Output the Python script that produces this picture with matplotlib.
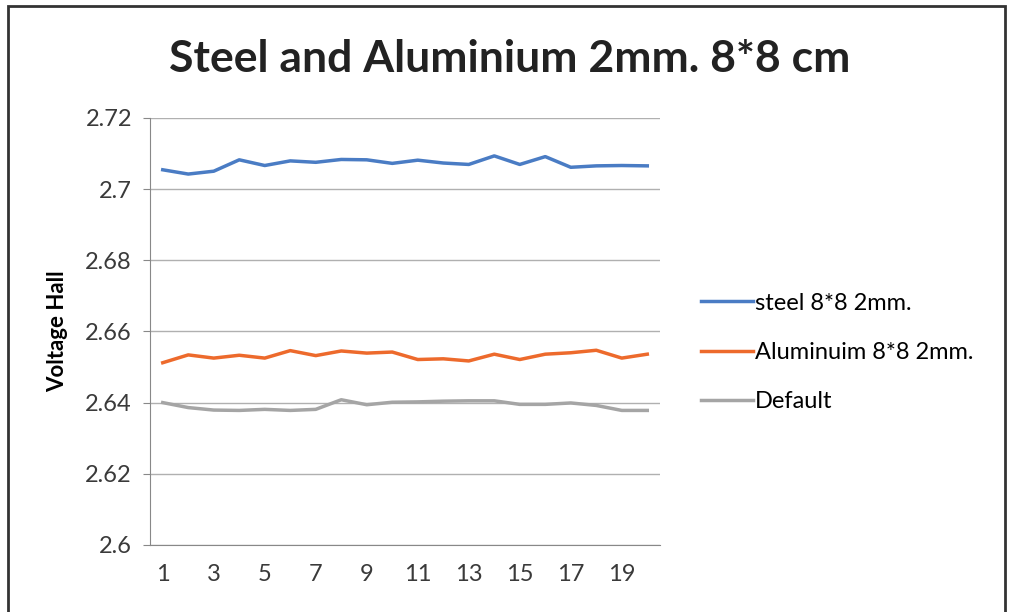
import numpy as np
import matplotlib.pyplot as plt
from matplotlib.patches import Rectangle

plt.rcParams['font.family'] = ['Lato', 'DejaVu Sans']

x = np.arange(1, 21)
steel = [2.7054, 2.7042, 2.7050, 2.7082, 2.7066, 2.7079, 2.7075, 2.7083, 2.7082, 2.7072,
         2.7081, 2.7073, 2.7069, 2.7093, 2.7069, 2.7091, 2.7061, 2.7065, 2.7066, 2.7065]
alu = [2.6512, 2.6534, 2.6525, 2.6533, 2.6525, 2.6546, 2.6532, 2.6545, 2.6539, 2.6542,
       2.6521, 2.6523, 2.6517, 2.6536, 2.6521, 2.6536, 2.6540, 2.6547, 2.6525, 2.6536]
default = [2.6400, 2.6386, 2.6379, 2.6378, 2.6381, 2.6378, 2.6381, 2.6408, 2.6394, 2.6401,
           2.6402, 2.6404, 2.6405, 2.6405, 2.6395, 2.6395, 2.6399, 2.6392, 2.6378, 2.6378]
labels = ["steel 8*8 2mm.", "Aluminuim 8*8 2mm.", "Default"]
colors = ["#4a7cc4", "#ed6a2c", "#a5a5a5"]
yticks = [2.6, 2.62, 2.64, 2.66, 2.68, 2.7, 2.72]
yticklabels = ["2.6", "2.62", "2.64", "2.66", "2.68", "2.7", "2.72"]

fig = plt.figure(figsize=(10.1, 6.12), dpi=100)
ax = fig.add_axes([0.1485, 0.1095, 0.505, 0.698])

for s, lab, c in zip([steel, alu, default], labels, colors):
    ax.plot(x, s, color=c, lw=2.5, label=lab)

ax.set_xlim(0.5, 20.5)
ax.set_ylim(2.6, 2.72)
ax.set_yticks(yticks)
ax.set_yticklabels(yticklabels)
ax.set_xticks(x[::2])
ax.tick_params(axis='both', labelsize=17, colors='#888888', length=5, labelcolor='#3a3a3a')
ax.tick_params(axis='y', pad=8)
ax.tick_params(axis='x', length=0, pad=14)
ax.grid(axis='y', color='#b0b0b0', lw=1)
ax.set_axisbelow(True)
for side in ['top', 'right']:
    ax.spines[side].set_visible(False)
for side in ['left', 'bottom']:
    ax.spines[side].set_color('#888888')

ax.set_ylabel("Voltage Hall", fontsize=16, fontweight='bold', labelpad=12)
fig.text(0.505, 0.903, "Steel and Aluminium 2mm. 8*8 cm", ha='center', va='center',
         fontsize=32, fontweight='bold', color='#222222')

fig.legend(loc='center left', bbox_to_anchor=(0.673, 0.424), frameon=False,
           fontsize=17, handlelength=2.2, handletextpad=0.1, labelspacing=1.2)

fig.add_artist(Rectangle((0.008, -0.01), 0.987, 1.0, transform=fig.transFigure,
                         fill=False, edgecolor='#333333', lw=2))

fig.savefig("out.png", dpi=100)
